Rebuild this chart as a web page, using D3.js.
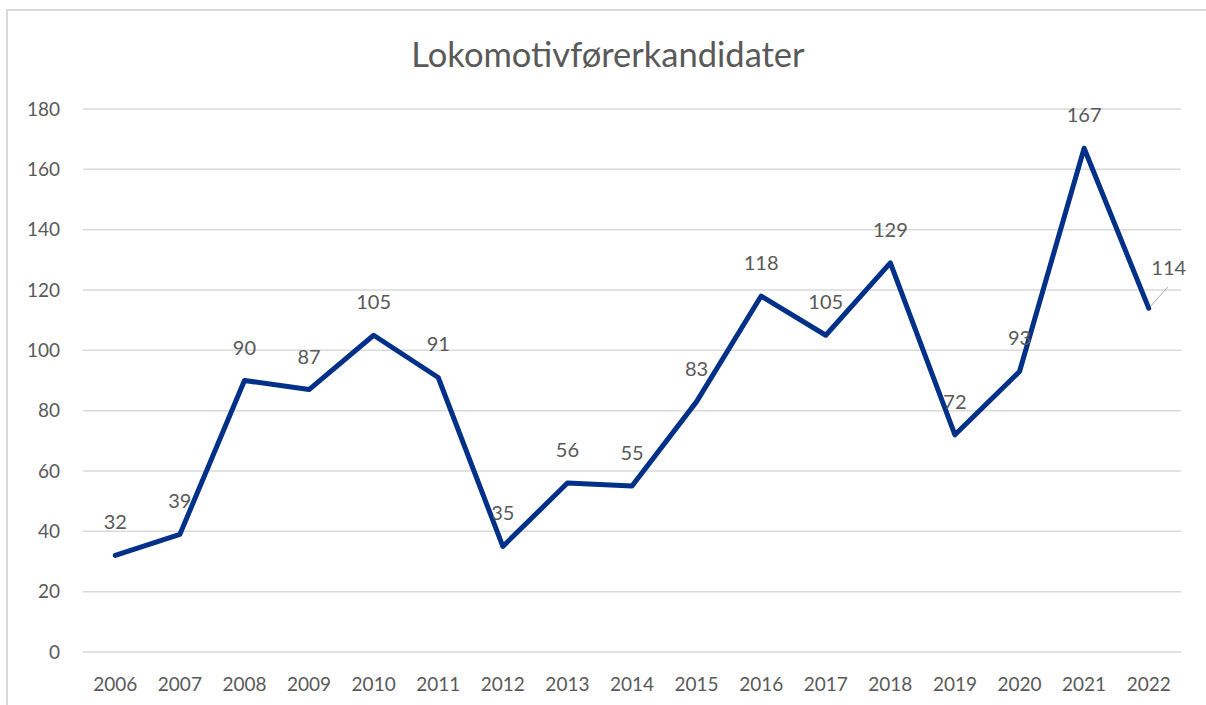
<!DOCTYPE html>
<html>
<head>
<meta charset="utf-8">
<script src="https://cdn.jsdelivr.net/npm/d3@7"></script>
<style>
  body { margin: 0; background: #fff; }
  text { font-family: Lato, "Open Sans", sans-serif; fill: #595959; }
</style>
</head>
<body>
<div id="chart"></div>
<script>
const years = ['2006', '2007', '2008', '2009', '2010', '2011', '2012', '2013', '2014',
  '2015', '2016', '2017', '2018', '2019', '2020', '2021', '2022'];
const kandidater = [32, 39, 90, 87, 105, 91, 35, 56, 55, 83, 118, 105, 129, 72, 93, 167, 114];
const yTicks = [0, 20, 40, 60, 80, 100, 120, 140, 160, 180];
const chartTitle = 'Lokomotivførerkandidater';

const lineColor = '#003087';
const labelSize = '19px';
const width = 1206;
const height = 705;

const svg = d3.select('#chart')
  .append('svg')
  .attr('width', width)
  .attr('height', height);

// chart frame (only top/left visible in the crop)
svg.append('path')
  .attr('d', 'M7,' + height + 'V10H' + width)
  .attr('fill', 'none')
  .attr('stroke', '#d9d9d9')
  .attr('stroke-width', 2);

const x = d3.scaleBand()
  .domain(years)
  .range([83, 1181]);

const y = d3.scaleLinear()
  .domain([0, 180])
  .range([652, 109]);

// grid
svg.append('g')
  .selectAll('line')
  .data(yTicks)
  .enter()
  .append('line')
  .attr('x1', 83)
  .attr('x2', 1181)
  .attr('y1', d => y(d))
  .attr('y2', d => y(d))
  .attr('stroke', '#d9d9d9')
  .attr('stroke-width', 1.5);

// y labels
svg.append('g')
  .selectAll('text')
  .data(yTicks)
  .enter()
  .append('text')
  .text(d => d)
  .attr('x', 60)
  .attr('y', d => y(d))
  .attr('dy', '0.35em')
  .style('font-size', labelSize)
  .style('text-anchor', 'end');

// x labels
svg.append('g')
  .selectAll('text')
  .data(years)
  .enter()
  .append('text')
  .text(d => d)
  .attr('x', d => x(d) + x.bandwidth() / 2)
  .attr('y', 684)
  .attr('dy', '0.35em')
  .style('font-size', labelSize)
  .style('text-anchor', 'middle');

const line = d3.line()
  .x((d, i) => x(years[i]) + x.bandwidth() / 2)
  .y(d => y(d));

svg.append('path')
  .datum(kandidater)
  .attr('fill', 'none')
  .attr('stroke', lineColor)
  .attr('stroke-width', 5)
  .attr('stroke-linejoin', 'round')
  .attr('stroke-linecap', 'round')
  .attr('d', line);

// data labels, last one pushed aside with a leader line
const last = kandidater.length - 1;
svg.append('g')
  .selectAll('text')
  .data(kandidater)
  .enter()
  .append('text')
  .text(d => d)
  .attr('x', (d, i) => x(years[i]) + x.bandwidth() / 2 + (i === last ? 20 : 0))
  .attr('y', (d, i) => y(d) - (i === last ? 40 : 33))
  .attr('dy', '0.35em')
  .style('font-size', '20px')
  .style('text-anchor', 'middle');

const lx = x(years[last]) + x.bandwidth() / 2;
const ly = y(kandidater[last]);
svg.append('line')
  .attr('x1', lx + 2)
  .attr('y1', ly - 2)
  .attr('x2', lx + 19)
  .attr('y2', ly - 21)
  .attr('stroke', '#a6a6a6')
  .attr('stroke-width', 1);

svg.append('text')
  .text(chartTitle)
  .attr('x', 608)
  .attr('y', 55)
  .attr('dy', '0.35em')
  .style('font-size', '34.5px')
  .style('text-anchor', 'middle');
</script>
</body>
</html>
